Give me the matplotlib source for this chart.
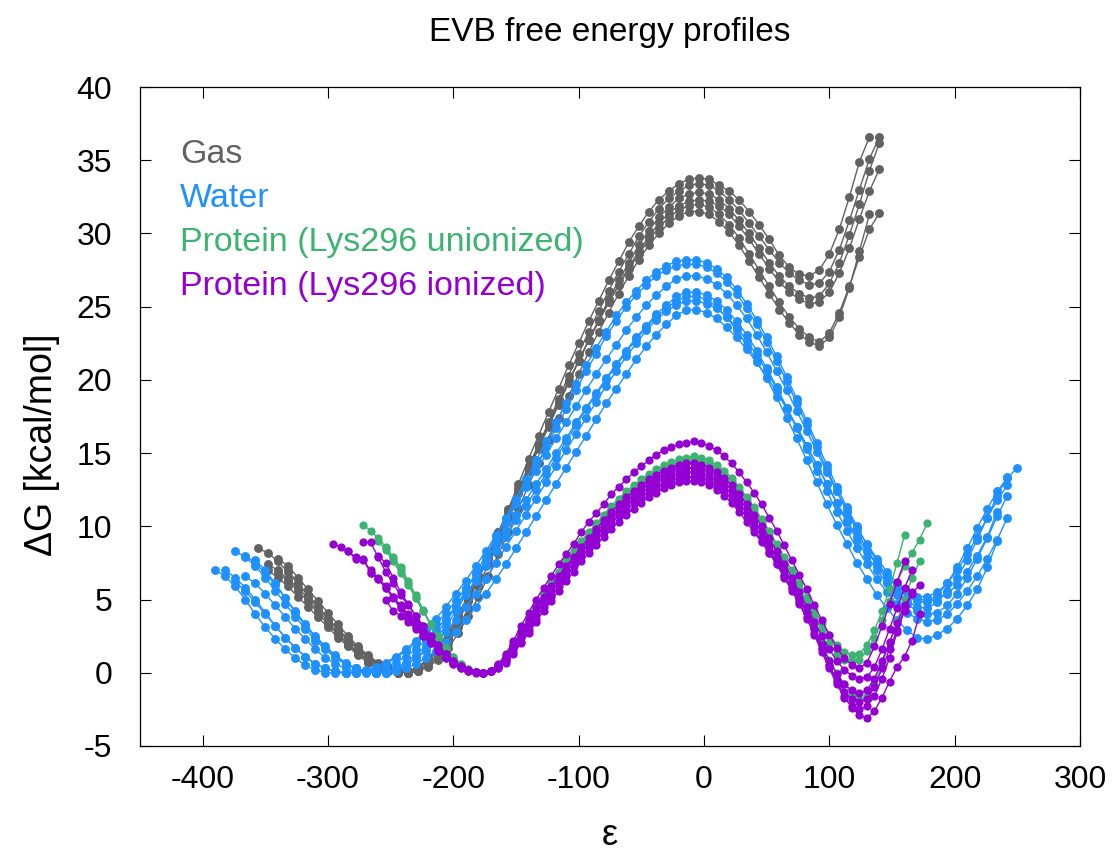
import numpy as np
import matplotlib
matplotlib.use("Agg")
import matplotlib.pyplot as plt

plt.rcParams['font.family'] = ['Liberation Sans', 'DejaVu Sans']
plt.rcParams['axes.unicode_minus'] = False

# ==============================
# colours
# ==============================
c_gas = '#626262'
c_water = '#1e90ff'
c_union = '#3cb371'
c_ion = '#9400d3'

# ==============================
# energy gap grids (eps)
# ==============================
gas_eps = [-356, -348, -340, -332, -324, -316, -308, -300, -292, -284,
           -276, -268, -260, -252, -244, -236, -228, -220, -212, -204,
           -196, -188, -180, -172, -164, -156, -148, -140, -132, -124,
           -116, -108, -100, -92, -84, -76, -68, -60, -52, -44,
           -36, -28, -20, -12, -4, 4, 12, 20, 28, 36,
           44, 52, 60, 68, 76, 84, 92, 100, 108, 116,
           124, 132, 140]

water_eps = [-390, -382, -374, -366, -358, -350, -342, -334, -326, -318,
             -310, -302, -294, -286, -278, -270, -262, -254, -246, -238,
             -230, -222, -214, -206, -198, -190, -182, -174, -166, -158,
             -150, -142, -134, -126, -118, -110, -102, -94, -86, -78,
             -70, -62, -54, -46, -38, -30, -22, -14, -6, 2,
             10, 18, 26, 34, 42, 50, 58, 66, 74, 82,
             90, 98, 106, 114, 122, 130, 138, 146, 154, 162,
             170, 178, 186, 194, 202, 210, 218, 226, 234, 242,
             250]

protein_eps = [-296, -290, -284, -278, -272, -266, -260, -254, -248, -242,
               -236, -230, -224, -218, -212, -206, -200, -194, -188, -182,
               -176, -170, -164, -158, -152, -146, -140, -134, -128, -122,
               -116, -110, -104, -98, -92, -86, -80, -74, -68, -62,
               -56, -50, -44, -38, -32, -26, -20, -14, -8, -2,
               4, 10, 16, 22, 28, 34, 40, 46, 52, 58,
               64, 70, 76, 82, 88, 94, 100, 106, 112, 118,
               124, 130, 136, 142, 148, 154, 160, 166, 172, 178]

# ==============================
# Gas (dG, kcal/mol)
# ==============================
gas_1 = [8.5, 8.2, 7.6, 6.9, 6.1, 5.3, 4.5, 3.7, 2.9, 2.2,
         1.6, 1.0, 0.6, 0.3, 0.1, 0.0, 0.2, 0.6, 1.3, 2.3,
         3.5, 4.9, 6.4, 8.0, 9.6, 11.2, 12.9, 14.6, 16.2, 17.8,
         19.4, 21.0, 22.5, 24.0, 25.4, 26.8, 28.1, 29.4, 30.5, 31.5,
         32.3, 32.9, 33.4, 33.7, 33.8, 33.7, 33.3, 32.9, 32.3, 31.5,
         30.6, 29.6, 28.5, 27.7, 27.2, 27.1, 27.5, 28.6, 30.3, 32.5,
         34.9, 36.6, None]
gas_2 = [None, None, 7.8, 7.3, 6.5, 5.7, 4.9, 4.1, 3.3, 2.5,
         1.8, 1.2, 0.7, 0.3, 0.1, 0.0, 0.1, 0.5, 1.1, 2.0,
         3.1, 4.4, 5.9, 7.4, 9.0, 10.6, 12.3, 13.9, 15.5, 17.1,
         18.7, 20.3, 21.8, 23.3, 24.7, 26.1, 27.4, 28.6, 29.8, 30.8,
         31.7, 32.4, 32.9, 33.3, 33.4, 33.3, 32.9, 32.3, 31.6, 30.7,
         29.8, 28.9, 28.0, 27.3, 26.8, 26.5, 26.6, 27.4, 28.9, 30.9,
         33.0, 35.1, 36.6]
gas_3 = [None, 7.4, 7.0, 6.4, 5.8, 5.1, 4.3, 3.5, 2.7, 2.0,
         1.4, 0.9, 0.5, 0.2, 0.0, 0.0, 0.3, 0.8, 1.5, 2.5,
         3.7, 5.0, 6.4, 7.8, 9.3, 10.8, 12.3, 13.8, 15.3, 16.8,
         18.3, 19.8, 21.3, 22.7, 24.1, 25.5, 26.8, 28.0, 29.2, 30.2,
         31.1, 31.8, 32.4, 32.7, 32.8, 32.7, 32.3, 31.7, 30.9, 30.0,
         29.0, 28.0, 27.1, 26.4, 25.9, 25.6, 25.7, 26.6, 28.0, 29.9,
         32.0, 34.3, 36.2]
gas_4 = [None, None, 6.8, 6.3, 5.6, 4.9, 4.1, 3.3, 2.6, 1.9,
         1.3, 0.8, 0.4, 0.1, 0.0, 0.1, 0.4, 0.9, 1.6, 2.6,
         3.8, 5.1, 6.5, 7.9, 9.4, 10.9, 12.4, 13.9, 15.4, 16.9,
         18.4, 19.9, 21.3, 22.7, 24.0, 25.3, 26.5, 27.7, 28.8, 29.8,
         30.7, 31.4, 31.9, 32.2, 32.3, 32.2, 31.9, 31.3, 30.5, 29.6,
         28.6, 27.6, 26.7, 26.0, 25.5, 25.2, 25.3, 26.0, 27.3, 29.0,
         31.0, 32.9, 34.4]
gas_5 = [None, 7.0, 6.5, 5.9, 5.2, 4.5, 3.8, 3.1, 2.4, 1.8,
         1.2, 0.7, 0.3, 0.1, 0.0, 0.1, 0.4, 1.0, 1.8, 2.8,
         4.0, 5.3, 6.7, 8.1, 9.6, 11.1, 12.6, 14.1, 15.6, 17.0,
         18.5, 19.9, 21.3, 22.7, 24.0, 25.3, 26.5, 27.6, 28.6, 29.6,
         30.4, 31.1, 31.6, 31.9, 32.0, 31.8, 31.3, 30.6, 29.7, 28.6,
         27.5, 26.4, 25.3, 24.3, 23.5, 22.9, 22.6, 23.2, 24.6, 26.4,
         28.4, 30.3, 31.4]
gas_6 = [None, None, None, 7.0, 6.1, 5.3, 4.5, 3.7, 3.0, 2.3,
         1.7, 1.1, 0.6, 0.3, 0.1, 0.0, 0.1, 0.4, 0.9, 1.7,
         2.7, 3.9, 5.2, 6.6, 8.1, 9.6, 11.2, 12.8, 14.3, 15.9,
         17.4, 18.9, 20.4, 21.9, 23.3, 24.6, 25.9, 27.1, 28.2, 29.2,
         30.0, 30.7, 31.2, 31.5, 31.5, 31.3, 30.8, 30.1, 29.2, 28.1,
         27.0, 25.9, 24.8, 23.9, 23.1, 22.6, 22.3, 22.9, 24.3, 26.3,
         28.8, 31.3, None]

# ==============================
# Water
# ==============================
water_1 = [None, None, 8.3, 7.9, 7.3, 6.5, 5.6, 4.7, 3.8, 3.0,
           2.2, 1.6, 1.0, 0.6, 0.3, 0.1, 0.0, 0.1, 0.3, 0.7,
           1.2, 1.8, 2.6, 3.5, 4.5, 5.6, 6.8, 8.0, 9.3, 10.6,
           11.9, 13.2, 14.5, 15.8, 17.1, 18.4, 19.7, 21.0, 22.2, 23.3,
           24.4, 25.3, 26.1, 26.8, 27.4, 27.8, 28.1, 28.2, 28.2, 28.0,
           27.6, 27.0, 26.2, 25.2, 24.1, 22.9, 21.6, 20.2, 18.7, 17.2,
           15.7, 14.2, 12.7, 11.3, 10.0, 8.7, 7.6, 6.6, 5.8, 5.2,
           4.9, 4.8, 5.3, 6.1, 7.2, 8.5, 9.9, 11.2, 12.4, 13.3,
           14.0]
water_2 = [None, None, None, 8.0, 7.5, 6.8, 6.0, 5.1, 4.2, 3.3,
           2.5, 1.8, 1.2, 0.7, 0.3, 0.1, 0.0, 0.0, 0.2, 0.5,
           1.0, 1.6, 2.3, 3.2, 4.2, 5.3, 6.4, 7.6, 8.9, 10.2,
           11.5, 12.8, 14.1, 15.4, 16.7, 18.0, 19.3, 20.6, 21.8, 23.0,
           24.0, 25.0, 25.8, 26.5, 27.1, 27.5, 27.8, 27.9, 27.9, 27.7,
           27.3, 26.7, 25.9, 24.9, 23.8, 22.6, 21.3, 19.9, 18.4, 16.9,
           15.4, 13.9, 12.4, 11.0, 9.7, 8.4, 7.3, 6.3, 5.5, 4.9,
           4.5, 4.4, 4.8, 5.6, 6.5, 7.7, 9.1, 10.6, 12.1, 13.4,
           None]
water_3 = [7.0, 6.6, 5.9, 5.0, 4.0, 3.1, 2.3, 1.6, 1.0, 0.5,
           0.2, 0.0, 0.0, 0.0, 0.1, 0.2, 0.4, 0.7, 1.1, 1.6,
           2.2, 2.9, 3.7, 4.5, 5.4, 6.3, 7.3, 8.3, 9.4, 10.5,
           11.6, 12.7, 13.8, 14.9, 16.0, 17.1, 18.2, 19.3, 20.4, 21.4,
           22.4, 23.4, 24.3, 25.1, 25.8, 26.4, 26.9, 27.1, 27.1, 26.9,
           26.5, 25.9, 25.1, 24.2, 23.1, 21.9, 20.6, 19.3, 17.9, 16.5,
           15.1, 13.7, 12.4, 11.1, 9.9, 8.8, 7.8, 6.9, 6.1, 5.5,
           5.1, 4.9, 5.0, 5.4, 6.0, 6.9, 8.0, 9.3, 11.0, None,
           None]
water_4 = [None, 7.0, 6.5, 5.8, 5.0, 4.1, 3.2, 2.4, 1.7, 1.1,
           0.6, 0.3, 0.1, 0.0, 0.0, 0.1, 0.3, 0.6, 1.0, 1.5,
           2.0, 2.6, 3.3, 4.1, 4.9, 5.8, 6.7, 7.7, 8.7, 9.7,
           10.8, 11.8, 12.9, 13.9, 15.0, 16.0, 17.1, 18.1, 19.1, 20.1,
           21.1, 22.0, 22.9, 23.7, 24.5, 25.1, 25.7, 26.0, 26.0, 25.8,
           25.4, 24.8, 24.0, 23.1, 22.0, 20.8, 19.5, 18.1, 16.7, 15.3,
           13.8, 12.4, 11.0, 9.7, 8.5, 7.4, 6.4, 5.5, 4.7, 4.1,
           3.7, 3.5, 3.6, 4.0, 4.7, 5.6, 6.6, 7.8, 9.1, 10.6,
           None]
water_5 = [None, None, 6.2, 5.6, 4.8, 4.0, 3.2, 2.4, 1.7, 1.1,
           0.6, 0.3, 0.1, 0.0, 0.0, 0.1, 0.2, 0.4, 0.7, 1.1,
           1.6, 2.2, 2.9, 3.7, 4.5, 5.4, 6.3, 7.3, 8.3, 9.3,
           10.4, 11.4, 12.5, 13.6, 14.7, 15.8, 16.9, 18.0, 19.0, 20.0,
           21.0, 21.9, 22.8, 23.6, 24.3, 24.9, 25.4, 25.7, 25.7, 25.5,
           25.0, 24.3, 23.4, 22.4, 21.3, 20.1, 18.8, 17.4, 16.0, 14.5,
           13.0, 11.5, 10.1, 8.8, 7.5, 6.4, 5.3, 4.4, 3.6, 2.9,
           2.4, 2.3, 2.6, 3.0, 3.7, 4.6, 5.7, 7.2, 9.0, None,
           None]
water_6 = [None, None, None, 6.6, 6.1, 5.4, 4.6, 3.8, 3.0, 2.3,
           1.6, 1.0, 0.6, 0.3, 0.1, 0.0, 0.0, 0.1, 0.3, 0.6,
           1.0, 1.5, 2.1, 2.8, 3.6, 4.5, 5.4, 6.4, 7.5, 8.6,
           9.7, 10.8, 11.9, 13.0, 14.1, 15.2, 16.3, 17.4, 18.5, 19.6,
           20.6, 21.6, 22.5, 23.4, 24.1, 24.7, 25.1, 25.4, 25.4, 25.2,
           24.9, 24.3, 23.6, 22.7, 21.7, 20.6, 19.4, 18.1, 16.8, 15.5,
           14.2, 12.9, 11.6, 10.4, 9.3, 8.3, 7.4, 6.6, 6.0, 5.5,
           5.2, 5.2, 5.5, 6.1, 7.0, 8.1, 9.3, 10.6, 11.8, 12.8,
           None]
water_7 = [None, None, None, None, 7.7, 7.0, 6.1, 5.1, 4.1, 3.2,
           2.4, 1.7, 1.1, 0.6, 0.3, 0.1, 0.0, 0.0, 0.1, 0.3,
           0.6, 1.0, 1.5, 2.1, 2.8, 3.6, 4.5, 5.4, 6.4, 7.4,
           8.5, 9.6, 10.7, 11.8, 12.9, 14.0, 15.1, 16.2, 17.3, 18.4,
           19.4, 20.4, 21.4, 22.3, 23.1, 23.8, 24.4, 24.8, 24.8, 24.6,
           24.2, 23.6, 22.9, 22.1, 21.2, 20.2, 19.2, 18.0, 16.8, 15.5,
           14.2, 12.9, 11.6, 10.3, 9.1, 8.0, 7.0, 6.1, 5.3, 4.7,
           4.2, 4.0, 4.1, 4.6, 5.4, 6.5, 7.8, 9.2, 10.7, 12.1,
           None]

# ==============================
# Protein, Lys296 unionized
# ==============================
union_1 = [None, None, None, None, 10.1, 9.7, 9.2, 8.6, 7.9, 7.2,
           6.3, 5.3, 4.3, 3.3, 2.4, 1.6, 1.0, 0.5, 0.2, 0.05,
           0.0, 0.15, 0.55, 1.2, 2.0, 2.9, 3.8, 4.6, 5.4, 6.2,
           6.9, 7.6, 8.3, 9.0, 9.6, 10.2, 10.8, 11.4, 11.9, 12.4,
           12.8, 13.2, 13.6, 13.9, 14.2, 14.4, 14.6, 14.7, 14.8, 14.7,
           14.5, 14.2, 13.8, 13.3, 12.7, 12.0, 11.3, 10.5, 9.7, 8.8,
           7.9, 7.0, 6.1, 5.2, 4.3, 3.4, 2.6, 1.9, 1.4, 1.2,
           1.3, 1.9, 2.9, 4.2, 5.7, 7.5, 9.4, None, None, None]
union_2 = [None, None, None, None, None, None, 9.0, 8.4, 7.6, 6.8,
           6.0, 5.1, 4.2, 3.3, 2.5, 1.7, 1.1, 0.6, 0.25, 0.05,
           0.0, 0.1, 0.5, 1.1, 1.9, 2.8, 3.7, 4.5, 5.3, 6.1,
           6.8, 7.5, 8.2, 8.9, 9.5, 10.1, 10.7, 11.2, 11.7, 12.2,
           12.6, 13.0, 13.4, 13.7, 14.0, 14.2, 14.4, 14.5, 14.6, 14.5,
           14.3, 14.0, 13.6, 13.1, 12.5, 11.8, 11.1, 10.3, 9.5, 8.6,
           7.7, 6.8, 5.8, 4.8, 3.8, 2.9, 2.0, 1.3, 0.9, 0.8,
           0.9, 1.5, 2.4, 3.6, 4.9, 6.2, 7.3, 8.2, 9.1, 10.2]
union_3 = [None, None, None, None, None, None, None, 8.5, 7.8, 7.0,
           6.1, 5.1, 4.2, 3.3, 2.5, 1.7, 1.1, 0.6, 0.25, 0.05,
           0.0, 0.1, 0.5, 1.0, 1.8, 2.7, 3.5, 4.3, 5.1, 5.9,
           6.6, 7.3, 8.0, 8.6, 9.3, 9.9, 10.5, 11.0, 11.5, 12.0,
           12.4, 12.8, 13.2, 13.5, 13.8, 14.0, 14.2, 14.3, 14.4, 14.3,
           14.1, 13.8, 13.4, 12.9, 12.3, 11.6, 10.8, 10.0, 9.1, 8.2,
           7.2, 6.2, 5.2, 4.2, 3.1, 2.0, 0.9, 0.0, -0.8, -1.4,
           -1.8, -1.6, -0.8, 0.6, 2.0, 3.5, 5.0, 6.5, 7.6, None]

# ==============================
# Protein, Lys296 ionized
# ==============================
ion_1 = [8.8, 8.6, 8.3, 7.9, 7.7, 7.0, 6.4, 5.8, 5.2, 4.6,
         4.0, 3.4, 2.8, 2.2, 1.6, 1.1, 0.7, 0.4, 0.2, 0.05,
         0.0, 0.15, 0.6, 1.3, 2.2, 3.2, 4.1, 5.0, 5.8, 6.6,
         7.4, 8.1, 8.8, 9.6, 10.3, 10.9, 11.5, 12.2, 12.7, 13.2,
         13.7, 14.1, 14.5, 14.9, 15.2, 15.4, 15.6, 15.7, 15.8, 15.7,
         15.5, 15.2, 14.8, 14.3, 13.7, 13.0, 12.3, 11.5, 10.6, 9.7,
         8.7, 7.7, 6.7, 5.7, 4.6, 3.6, 2.6, 1.7, 1.0, 0.5,
         0.3, 0.7, 1.8, 3.2, 4.7, 6.2, 7.6, None, None, None]
ion_2 = [None, None, None, None, 8.9, 8.9, 7.9, 6.9, 6.1, 5.3,
         4.6, 3.9, 3.2, 2.5, 1.9, 1.3, 0.8, 0.45, 0.2, 0.05,
         0.0, 0.15, 0.5, 1.1, 1.9, 2.8, 3.6, 4.4, 5.2, 5.9,
         6.6, 7.3, 7.9, 8.6, 9.2, 9.8, 10.4, 11.0, 11.5, 12.0,
         12.4, 12.8, 13.2, 13.5, 13.8, 14.0, 14.2, 14.3, 14.3, 14.2,
         14.0, 13.7, 13.3, 12.8, 12.2, 11.5, 10.8, 10.0, 9.2, 8.3,
         7.4, 6.5, 5.5, 4.5, 3.5, 2.5, 1.6, 0.8, 0.2, -0.2,
         -0.4, -0.3, 0.4, 1.6, 3.0, 4.4, 5.8, 7.0, None, None]
ion_3 = [None, None, None, None, None, None, 8.0, 7.5, 6.5, 5.5,
         4.7, 3.9, 3.2, 2.5, 1.9, 1.3, 0.8, 0.45, 0.2, 0.05,
         0.0, 0.1, 0.45, 1.0, 1.8, 2.6, 3.4, 4.2, 5.0, 5.7,
         6.4, 7.1, 7.8, 8.4, 9.0, 9.6, 10.2, 10.7, 11.2, 11.7,
         12.1, 12.5, 12.9, 13.2, 13.5, 13.7, 13.9, 14.0, 14.0, 13.9,
         13.7, 13.4, 13.0, 12.5, 11.9, 11.2, 10.4, 9.6, 8.7, 7.9,
         7.0, 6.1, 5.1, 4.1, 3.0, 1.9, 0.8, -0.1, -0.8, -1.2,
         -1.4, -1.2, -0.4, 0.8, 2.1, 3.4, 4.6, 5.4, 6.0, None]
ion_4 = [None, None, 8.3, 7.8, 7.8, 6.8, 6.5, 5.9, 5.2, 4.5,
         3.9, 3.3, 2.7, 2.1, 1.6, 1.1, 0.7, 0.4, 0.15, 0.05,
         0.0, 0.1, 0.4, 0.9, 1.6, 2.4, 3.2, 4.0, 4.8, 5.5,
         6.2, 6.9, 7.5, 8.2, 8.8, 9.4, 9.9, 10.5, 11.0, 11.4,
         11.9, 12.3, 12.6, 12.9, 13.2, 13.4, 13.6, 13.7, 13.7, 13.6,
         13.4, 13.1, 12.7, 12.2, 11.6, 10.9, 10.1, 9.3, 8.4, 7.6,
         6.7, 5.8, 4.8, 3.8, 2.7, 1.6, 0.5, -0.5, -1.3, -1.8,
         -2.0, -1.8, -1.0, 0.3, 1.6, 2.9, 4.2, 5.5, None, None]
ion_5 = [None, None, None, None, None, None, None, 5.0, 4.2, 3.9,
         3.5, 3.0, 2.5, 2.0, 1.5, 1.0, 0.6, 0.35, 0.15, 0.05,
         0.0, 0.1, 0.35, 0.8, 1.4, 2.1, 2.9, 3.7, 4.5, 5.2,
         5.9, 6.6, 7.3, 7.9, 8.5, 9.1, 9.6, 10.2, 10.7, 11.1,
         11.6, 12.0, 12.3, 12.6, 12.9, 13.1, 13.3, 13.4, 13.4, 13.3,
         13.1, 12.8, 12.4, 11.9, 11.3, 10.6, 9.8, 9.0, 8.2, 7.4,
         6.5, 5.6, 4.7, 3.7, 2.6, 1.4, 0.3, -0.8, -1.7, -2.3,
         -2.5, -2.3, -1.6, -0.4, 1.0, 2.8, 4.5, None, None, None]
ion_6 = [None, None, None, None, None, 6.8, 6.4, 5.8, 5.1, 4.4,
         3.7, 3.1, 2.5, 2.0, 1.5, 1.0, 0.6, 0.3, 0.1, 0.0,
         0.0, 0.1, 0.3, 0.7, 1.3, 2.0, 2.7, 3.5, 4.2, 4.9,
         5.6, 6.3, 6.9, 7.6, 8.2, 8.7, 9.3, 9.8, 10.3, 10.8,
         11.2, 11.6, 12.0, 12.3, 12.6, 12.8, 13.0, 13.1, 13.1, 13.0,
         12.8, 12.5, 12.1, 11.6, 11.0, 10.3, 9.6, 8.9, 8.2, 7.4,
         6.6, 5.8, 5.0, 4.1, 3.0, 1.7, 0.5, -0.6, -1.6, -2.4,
         -2.9, -3.1, -2.6, -1.7, -0.6, 0.4, 1.1, 2.2, 4.0, None]

groups = [
    (gas_eps, [gas_1, gas_2, gas_3, gas_4, gas_5, gas_6], c_gas, 6.4),
    (water_eps, [water_1, water_2, water_3, water_4, water_5, water_6, water_7], c_water, 6.4),
    (protein_eps, [union_1, union_2, union_3], c_union, 5.9),
    (protein_eps, [ion_1, ion_2, ion_3, ion_4, ion_5, ion_6], c_ion, 5.9),
]

labels = ['Gas', 'Water', 'Protein (Lys296 unionized)', 'Protein (Lys296 ionized)']
label_colors = [c_gas, c_water, c_union, c_ion]

# ==============================
# plot
# ==============================
fig = plt.figure(figsize=(11.17, 8.55), dpi=100)
ax = fig.add_axes([0.1253, 0.1275, 0.8416, 0.7707])

for eps, curves, col, ms in groups:
    x = np.array(eps, dtype=float)
    for k, dg in enumerate(curves):
        y = np.array(dg, dtype=float)
        if len(y) != len(x):
            raise ValueError(f"curve {k} length {len(y)} != {len(x)}")
        ok = ~np.isnan(y)
        ax.plot(x[ok], y[ok], '-o', color=col, lw=1.0, ms=ms, mew=0)

ax.set_xlim(-450, 300)
ax.set_ylim(-5, 40)
ax.set_xticks(np.arange(-400, 301, 100))
ax.set_yticks(np.arange(-5, 41, 5))
ax.tick_params(direction='in', top=True, right=True, length=8, width=0.8,
               labelsize=23)
ax.tick_params(axis='x', pad=14)
ax.tick_params(axis='y', pad=20)
for s in ax.spines.values():
    s.set_linewidth(0.9)

fig.text(610 / 1117, 1 - 835 / 855, 'ε', fontsize=26, ha='center', va='center')
fig.text(42 / 1117, 1 - 445 / 855, 'ΔG [kcal/mol]', fontsize=27,
         rotation=90, ha='center', va='center')
fig.text(610 / 1117, 1 - 32 / 855, 'EVB free energy profiles', fontsize=24,
         ha='center', va='center')

for i, (lab, col) in enumerate(zip(labels, label_colors)):
    ax.text(0.0426, 0.897 - i * 0.0668, lab, color=col, fontsize=24.5,
            transform=ax.transAxes, ha='left', va='center')

fig.savefig('out.png', dpi=100)
